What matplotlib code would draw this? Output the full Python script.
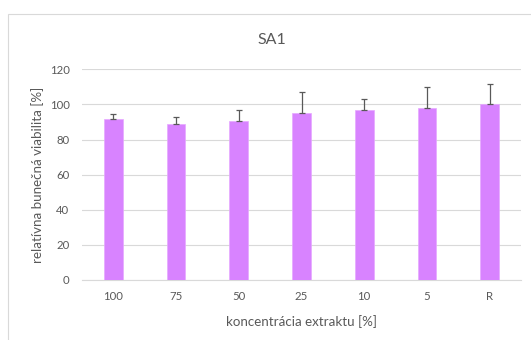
import matplotlib
matplotlib.use("Agg")
import matplotlib.pyplot as plt
from matplotlib.patches import Rectangle

categories = ["100", "75", "50", "25", "10", "5", "R"]
values = [91.5, 89.0, 90.5, 94.9, 96.6, 98.1, 100.0]
errors = [3.0, 4.0, 6.5, 12.0, 6.3, 12.0, 11.8]
yticks = [0, 20, 40, 60, 80, 100, 120]

W, H = 531, 340
fig = plt.figure(figsize=(W / 100, H / 100), dpi=100)
plt.rcParams['font.family'] = ['Lato', 'DejaVu Sans']

# chart frame (partially cropped)
fig.patches.append(Rectangle((8 / W, -0.1), 1.2, 1.1 - 14 / H, transform=fig.transFigure,
                             fill=False, edgecolor='#d9d9d9', linewidth=0.8))

ax = fig.add_axes([82 / W, 60 / H, (521 - 82) / W, (280 - 69.3) / H])
x = range(len(categories))
ax.bar(x, values, width=0.3, color='#d883ff', edgecolor='#e6a8ff', linewidth=0.5, zorder=3)
ax.errorbar(x, values, yerr=[[0] * len(errors), errors], fmt='none', ecolor='#595959',
            elinewidth=0.9, capsize=2.5, capthick=0.9, zorder=4)

ax.set_xlim(-0.5, len(categories) - 0.5)
ax.set_ylim(0, 120)
ax.set_yticks(yticks)
ax.set_xticks(list(x))
ax.set_xticklabels(categories)
ax.yaxis.grid(True, color='#d9d9d9', linewidth=0.8, zorder=0)
ax.set_axisbelow(True)
for s in ['top', 'right', 'left']:
    ax.spines[s].set_visible(False)
ax.spines['bottom'].set_color('#d9d9d9')
ax.spines['bottom'].set_linewidth(0.8)
ax.tick_params(axis='both', length=0, labelsize=8.2, labelcolor='#595959')
ax.tick_params(axis='x', pad=8)
ax.tick_params(axis='y', pad=9)

fig.text(272 / W, 1 - 40 / H, "SA1", ha='center', va='center', fontsize=11.5, color='#595959')
fig.text(301 / W, 1 - 321.7 / H, "koncentrácia extraktu [%]", ha='center', va='center',
         fontsize=9.6, color='#595959')
fig.text(38 / W, 1 - 175 / H, "relatívna bunečná viabilita [%]", ha='center', va='center',
         rotation=90, fontsize=9.6, color='#595959')

fig.savefig("out.png", dpi=100)
